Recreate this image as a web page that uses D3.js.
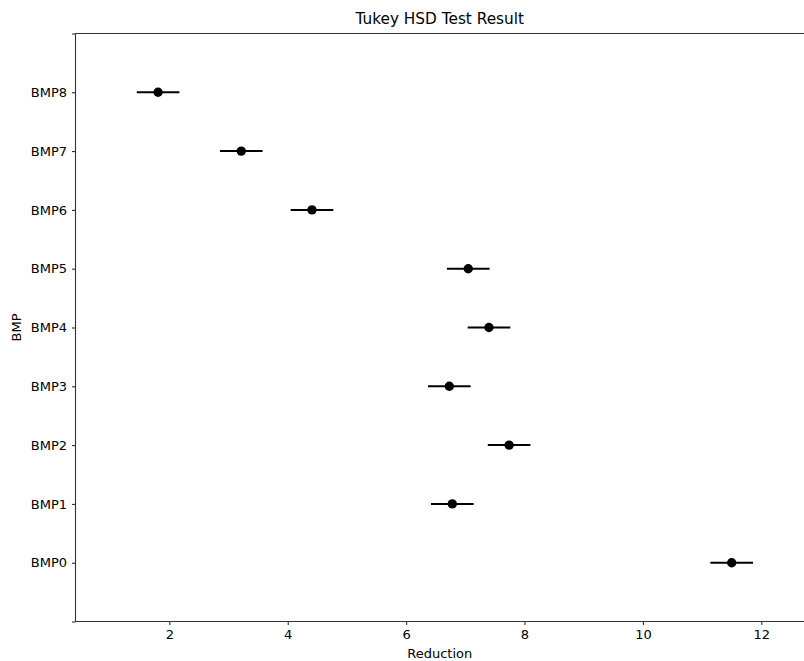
<!DOCTYPE html>
<html><head><meta charset="utf-8">
<script src="https://cdn.jsdelivr.net/npm/d3@7"></script>
<style>body{margin:0;background:#fff;} text{font-family:"DejaVu Sans",sans-serif;}</style>
</head><body>
<svg id="c" width="804" height="661"></svg>
<script>
const groups = ["BMP0","BMP1","BMP2","BMP3","BMP4","BMP5","BMP6","BMP7","BMP8"];
const means = [11.50, 6.78, 7.74, 6.73, 7.40, 7.05, 4.41, 3.215, 1.81];
const halfWidth = [0.36, 0.36, 0.36, 0.36, 0.36, 0.36, 0.36, 0.36, 0.36];
const xTicks = [2, 4, 6, 8, 10, 12];

const W = 804, H = 661;
const m = {left: 75.5, right: -0.5, top: 33.5, bottom: 39.5};
const svg = d3.select("#c");
const x = d3.scaleLinear().domain([0.415, 12.73]).range([m.left, W - m.right]);
const y = d3.scaleLinear().domain([-1, groups.length]).range([H - m.bottom, m.top]);

const yTickVals = d3.range(-1, groups.length + 1);
const xAxis = svg.append("g").attr("transform", `translate(0,${H - m.bottom})`)
  .call(d3.axisBottom(x).tickValues(xTicks).tickSize(3.5).tickPadding(5).tickFormat(d3.format("d")));
const yAxis = svg.append("g").attr("transform", `translate(${m.left},0)`)
  .call(d3.axisLeft(y).tickValues(yTickVals).tickSize(3.5).tickPadding(5)
    .tickFormat(d => (d >= 0 && d < groups.length) ? groups[d] : ""));
[xAxis, yAxis].forEach(a => {
  a.select(".domain").remove();
  a.selectAll("line").attr("stroke", "#000").attr("stroke-width", 0.9);
  a.selectAll("text").attr("font-size", 13).attr("fill", "#000");
});
// spines
const s = svg.append("g").attr("stroke", "#333").attr("stroke-width", 1.1).attr("fill", "none");
s.append("line").attr("x1", m.left).attr("x2", W).attr("y1", y(-1)).attr("y2", y(-1));
s.append("line").attr("x1", m.left).attr("x2", W).attr("y1", y(groups.length)).attr("y2", y(groups.length));
s.append("line").attr("x1", m.left).attr("x2", m.left).attr("y1", y(-1)).attr("y2", y(groups.length));

const g = svg.append("g");
groups.forEach((name, i) => {
  g.append("line").attr("x1", x(means[i] - halfWidth[i])).attr("x2", x(means[i] + halfWidth[i]))
    .attr("y1", y(i)).attr("y2", y(i)).attr("stroke", "#000").attr("stroke-width", 2);
  g.append("circle").attr("cx", x(means[i])).attr("cy", y(i)).attr("r", 4.7).attr("fill", "#000");
});

svg.append("text").attr("x", (m.left + W) / 2).attr("y", 24).attr("text-anchor", "middle")
  .attr("font-size", 15.3).text("Tukey HSD Test Result");
svg.append("text").attr("x", (m.left + W) / 2).attr("y", 658).attr("text-anchor", "middle")
  .attr("font-size", 13).text("Reduction");
svg.append("text").attr("transform", `translate(21,${(y(-1) + y(groups.length)) / 2}) rotate(-90)`)
  .attr("text-anchor", "middle").attr("font-size", 13).text("BMP");
</script>
</body></html>
